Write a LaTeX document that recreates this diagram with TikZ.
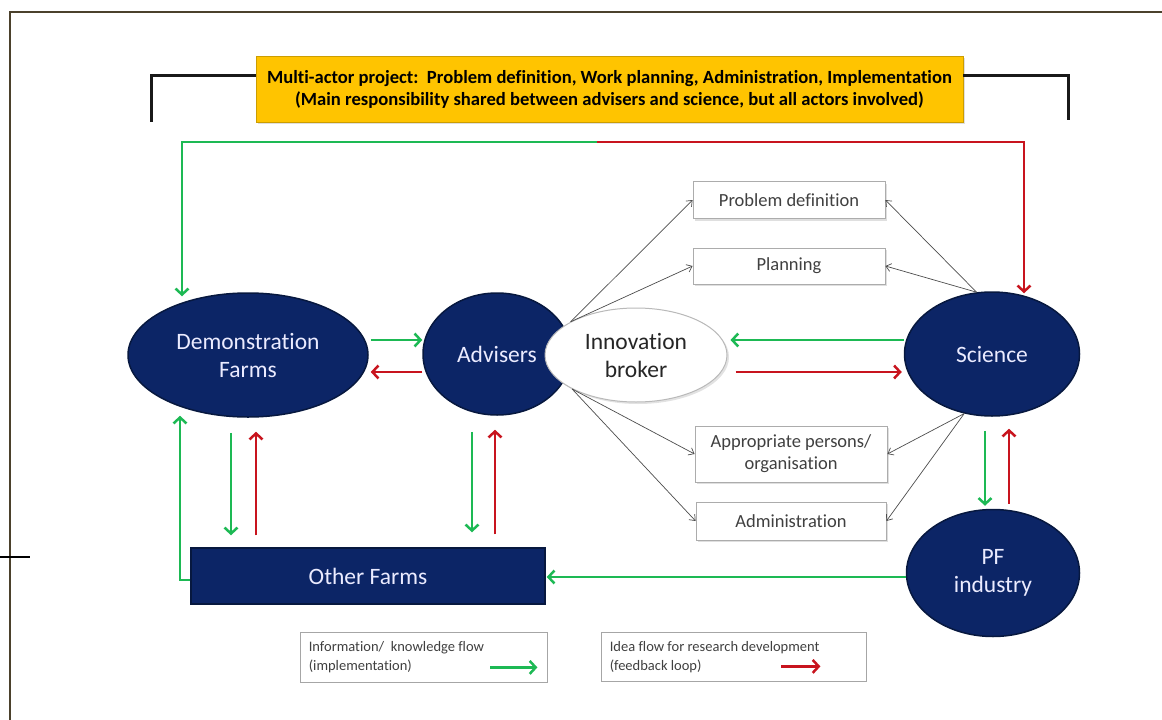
\documentclass[tikz,border=0pt]{standalone}
\usepackage{fontspec}
\setmainfont{Carlito}[Ligatures={NoCommon}]
\usetikzlibrary{shapes.geometric,arrows.meta,calc,shadows}
\definecolor{navy}{HTML}{0C2566}
\definecolor{navydark}{HTML}{07183F}
\definecolor{flowgreen}{HTML}{1DB954}
\definecolor{flowred}{HTML}{C8141E}
\definecolor{titleyellow}{HTML}{FFC400}
\definecolor{framebrown}{HTML}{4B412C}
\definecolor{boxtext}{HTML}{404040}
\begin{document}
\begin{tikzpicture}[x=1pt,y=-1pt,
  actor/.style={ellipse, fill=navy, draw=navydark, line width=1.5pt, text=white!92!blue,
    align=center, font=\fontsize{23.5}{28}\selectfont, inner sep=0pt},
  brokerstyle/.style={ellipse, fill=white, draw=gray!55, line width=1pt, text=black!85,
    align=center, font=\fontsize{23.5}{28}\selectfont, inner sep=0pt,
    drop shadow={shadow xshift=2pt, shadow yshift=-2pt, fill=gray!45}},
  taskbox/.style={rectangle, draw=gray!65, fill=white, line width=0.8pt, text=boxtext,
    align=center, font=\fontsize{18.5}{22}\selectfont, inner sep=0pt,
    drop shadow={shadow xshift=2pt, shadow yshift=-2pt, fill=gray!50}},
  legbox/.style={rectangle, draw=gray!70, fill=white, line width=0.8pt, inner sep=0pt},
  legtext/.style={text=boxtext, align=left, font=\fontsize{14.5}{19}\selectfont, inner sep=0pt},
  gflow/.style={draw=flowgreen, line width=2.5pt, -{Straight Barb[length=6pt,width=13pt]}},
  rflow/.style={draw=flowred, line width=2.5pt, -{Straight Barb[length=6pt,width=13pt]}},
  thin/.style={draw=black!70, line width=0.7pt, -{Straight Barb[length=5pt,width=8pt]}},
]
\useasboundingbox (0,0) rectangle (1162,720);

% frame
\draw[framebrown, line width=2.5pt] (10,720) -- (10,12) -- (1162,12);
\draw[black, line width=1.5pt] (0,557) -- (30,557);

% title box
\node[rectangle, fill=titleyellow, draw=titleyellow!80!black, line width=0.8pt,
  minimum width=707, minimum height=66, inner sep=0pt, align=center,
  font=\fontsize{18.6}{22}\bfseries\selectfont,
  drop shadow={shadow xshift=2pt, shadow yshift=-2pt, fill=gray!50}] (title) at (609.5,89)
  {Multi-actor project:\ \ Problem definition, Work planning, Administration, Implementation\\
   (Main responsibility shared between advisers and science, but all actors involved)};
\draw[black!90, line width=3pt] ($(title.west)+(0,-14)$) -| ($(title.west)+(-104,33)$);
\draw[black!90, line width=3pt] ($(title.east)+(0,-14)$) -| ($(title.east)+(105,31)$);

% actors
\node[actor, minimum width=240, minimum height=124] (demo) at (248,355) {Demonstration\\Farms};
\node[actor, minimum width=148, minimum height=122] (adv) at (497,354) {Advisers};
\node[brokerstyle, minimum width=182, minimum height=94] (broker) at (636,355) {Innovation\\broker};
\node[actor, minimum width=175, minimum height=124] (sci) at (992,354) {Science};
\node[actor, minimum width=173, minimum height=127] (pf) at (993,573) {PF\\industry};
\node[rectangle, fill=navy, draw=navydark, line width=1.5pt, text=white!92!blue,
  minimum width=354, minimum height=56, inner sep=0pt,
  font=\fontsize{23.5}{28}\selectfont] (other) at (368,576) {Other Farms};

% task boxes
\node[taskbox, minimum width=192, minimum height=37] (pd) at (789,200) {Problem definition};
\node[taskbox, minimum width=192, minimum height=36] (plan) at (789,266) {Planning};
\node[taskbox, minimum width=192, minimum height=56] (appr) at (791,454) {Appropriate persons/\\organisation};
\node[taskbox, minimum width=190, minimum height=38] (admin) at (791,521) {Administration};

% thin arrows
\draw[thin] (broker.153) -- (pd.west);
\draw[thin] (broker.153) -- (plan.west);
\draw[thin] (broker.208) -- (appr.west);
\draw[thin] (broker.208) -- (admin.west);
\draw[thin] (sci.104) -- (pd.east);
\draw[thin] (sci.104) -- (plan.east);
\draw[thin] (sci.245) -- (appr.east);
\draw[thin] (sci.245) -- (admin.east);

% top loop
\coordinate (mid) at (597,142);
\draw[gflow] (mid) -| ($(demo.north)+(-66,4)$);
\draw[rflow] (mid) -| ($(sci.north)+(32,2)$);

% horizontal flows
\draw[gflow] ($(demo.east)+(2,-15)$) -- ($(adv.west)+(0,-14)$);
\draw[rflow] ($(adv.west)+(0,18)$) -- ($(demo.east)+(2,17)$);
\draw[gflow] ($(sci.west)+(0,-14)$) -- ($(broker.east)+(3,-15)$);
\draw[rflow] ($(broker.east)+(8,17)$) -- ($(sci.west)+(-2,18)$);

% vertical flows
\draw[gflow] ($(demo.south)+(-17,15)$) -- ($(other.north)+(-137,-12)$);
\draw[rflow] ($(other.north)+(-112,-12)$) -- ($(demo.south)+(8,14)$);
\draw[gflow] ($(adv.south)+(-25,16)$) -- ($(other.north)+(104,-15)$);
\draw[rflow] ($(other.north)+(127,-13)$) -- ($(adv.south)+(-2,14)$);
\draw[gflow] ($(sci.south)+(-7,14)$) -- ($(pf.north)+(-8,-3)$);
\draw[rflow] ($(pf.north)+(16,-5)$) -- ($(sci.south)+(17,12)$);

% bottom flows
\draw[gflow] ($(pf.west)+(0,4)$) -- ($(other.east)+(1,1)$);
\draw[gflow] ($(other.west)+(0,4)$) -| ($(demo.south)+(-68,-2)$);

% legends
\node[legbox, minimum width=247, minimum height=50] (leg1) at (423.5,657) {};
\node[legtext, anchor=north west] (leg1t) at ($(leg1.north west)+(9,10)$)
  {Information/\ \ knowledge flow\\(implementation)};
\draw[gflow] ($(leg1.south east)+(-57,-15)$) -- ($(leg1.south east)+(-10,-15)$);
\node[legbox, minimum width=265, minimum height=49] (leg2) at (733.5,656.5) {};
\node[legtext, anchor=north west] (leg2t) at ($(leg2.north west)+(9,10)$)
  {Idea flow for research development\\(feedback loop)};
\draw[rflow] ($(leg2.south east)+(-85,-15)$) -- ($(leg2.south east)+(-46,-15)$);
\end{tikzpicture}
\end{document}
